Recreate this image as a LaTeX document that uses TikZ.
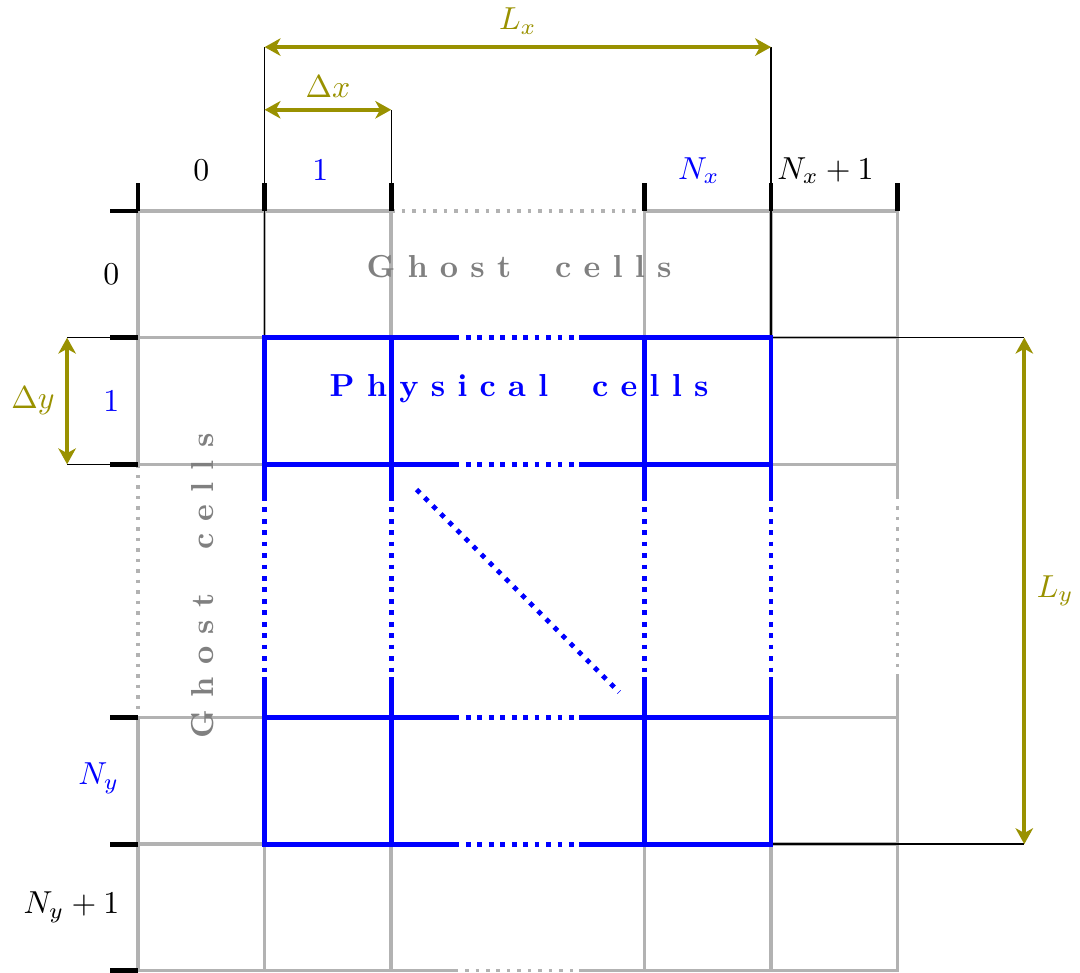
\documentclass[tikz,border=0pt]{standalone}
\usetikzlibrary{arrows.meta}

\definecolor{dimolive}{RGB}{153,145,0}

\begin{document}
\begin{tikzpicture}[x=1.4cm, y=1.4cm,
        gridline/.style={gray!60, line width=1.1pt, line cap=rect},
        griddots/.style={gray!60, line width=1.1pt, dash pattern=on 1.1pt off 2.2pt},
        physline/.style={blue, line width=1.5pt, line cap=rect},
        physdots/.style={blue, line width=1.5pt, dash pattern=on 1.5pt off 2.1pt},
        tickmark/.style={black, line width=1.5pt},
        extline/.style={black, line width=0.4pt},
        dimarrow/.style={dimolive, line width=1.2pt, {Stealth[length=5pt, width=5.5pt, inset=1.5pt]}-{Stealth[length=5pt, width=5.5pt, inset=1.5pt]}},
        ghosttext/.style={text=gray, font=\bfseries},
        phystext/.style={text=blue, font=\bfseries}]
        \useasboundingbox (-1.09,-6.01) rectangle (7.44,1.667);

        \foreach \y in {0,-1,-2,-4,-5,-6} {
            \draw[gridline] (0,\y) -- (2,\y);
            \draw[gridline] (4,\y) -- (6,\y);
        }
        \foreach \x in {0,1,2,4,5,6} {
            \draw[gridline] (\x,0) -- (\x,-2);
            \draw[gridline] (\x,-4) -- (\x,-6);
        }
        \draw[griddots] (2,0) -- (4,0);
        \draw[griddots] (0,-2) -- (0,-4);
        \draw[gridline] (2,-6) -- (2.5,-6) (3.5,-6) -- (4,-6);
        \draw[griddots] (2.5,-6) -- (3.5,-6);
        \draw[gridline] (6,-2) -- (6,-2.25) (6,-3.7) -- (6,-4);
        \draw[griddots] (6,-2.25) -- (6,-3.7);

        \coordinate (lxL) at (1,1.295);
        \coordinate (lxR) at (5,1.295);
        \coordinate (dxL) at (1,0.8);
        \coordinate (dxR) at (2,0.8);
        \coordinate (dyT) at (-0.56,-1);
        \coordinate (dyB) at (-0.56,-2);
        \coordinate (lyT) at (7,-1);
        \coordinate (lyB) at (7,-5);

        \draw[extline] (1,-1) -- (lxL);
        \draw[extline] (5,-1) -- (lxR);
        \draw[extline] (2,0) -- (dxR);
        \draw[extline] (0,-1) -- (dyT);
        \draw[extline] (0,-2) -- (dyB);
        \draw[extline] (5,-1) -- (lyT);
        \draw[extline] (5,-5) -- (lyB);

        \foreach \y in {-1,-2,-4,-5} {
            \draw[physline] (1,\y) -- (2.5,\y) (3.5,\y) -- (5,\y);
            \draw[physdots] (2.5,\y) -- (3.5,\y);
        }
        \foreach \x in {1,2,4,5} {
            \draw[physline] (\x,-1) -- (\x,-2.25) (\x,-3.7) -- (\x,-5);
            \draw[physdots] (\x,-2.25) -- (\x,-3.7);
        }
        \draw[physdots] (2.2,-2.2) -- (3.8,-3.8);

        \foreach \x in {0,1,2,4,5,6}
            \draw[tickmark] (\x,0) -- (\x,0.22);
        \foreach \y in {0,-1,-2,-4,-5,-6}
            \draw[tickmark] (0,\y) -- (-0.22,\y);

        \draw[dimarrow] (lxL) -- node[above] (lxLabel) {$L_x$} (lxR);
        \draw[dimarrow] (dxL) -- node[above] (dxLabel) {$\Delta x$} (dxR);
        \draw[dimarrow] (dyT) -- node[left] (dyLabel) {$\Delta y$} (dyB);
        \draw[dimarrow] (lyT) -- node[right] (lyLabel) {$L_y$} (lyB);

        \node (col0) at (0.5,0.32) {$0$};
        \node[text=blue] (col1) at (1.44,0.32) {$1$};
        \node[text=blue] (colNx) at (4.43,0.32) {$N_x$};
        \node (colNxp) at (5.43,0.32) {$N_x+1$};

        \node[anchor=east] (row0) at (-0.06,-0.5) {$0$};
        \node[anchor=east, text=blue] (row1) at (-0.06,-1.5) {$1$};
        \node[anchor=east, text=blue] (rowNy) at (-0.06,-4.48) {$N_y$};
        \node[anchor=east] (rowNyp) at (-0.06,-5.5) {$N_y+1$};

        \node[ghosttext] (ghostTop) at (3.01,-0.44) {G h o s t \quad c e l l s};
        \node[ghosttext, rotate=90] (ghostLeft) at (0.51,-2.96) {G h o s t \quad c e l l s};
        \node[phystext] (physTop) at (3.01,-1.40) {P h y s i c a l \quad c e l l s};
    \end{tikzpicture}
\end{document}
